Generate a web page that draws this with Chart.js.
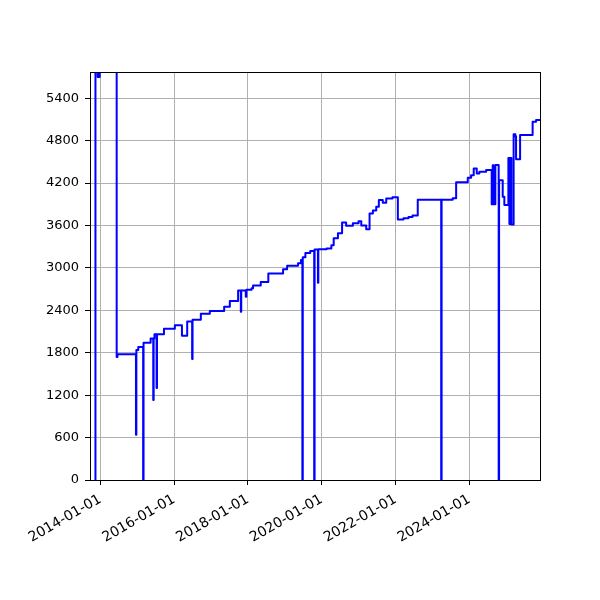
<!DOCTYPE html>
<html>
<head>
<meta charset="utf-8">
<script src="https://cdn.jsdelivr.net/npm/chart.js@4/dist/chart.umd.min.js"></script>
<style>
  html, body { margin: 0; padding: 0; background: #fff; }
  #wrap { width: 600px; height: 600px; }
</style>
</head>
<body>
<div id="wrap"><canvas id="chart" width="600" height="600"></canvas></div>
<script>
// change points of the series (value holds until the next date)
const dates = [
  '2013-11-10', '2013-11-14', '2013-12-06', '2013-12-26', '2014-06-12', '2014-06-20',
  '2014-12-20', '2014-12-24', '2015-01-12', '2015-03-01', '2015-03-05', '2015-05-14',
  '2015-06-09', '2015-06-13', '2015-06-21', '2015-07-12', '2015-07-16', '2015-09-23',
  '2016-01-09', '2016-03-19', '2016-05-10', '2016-06-28', '2016-07-02', '2016-09-22',
  '2016-12-20', '2017-05-11', '2017-07-06', '2017-09-26', '2017-10-23', '2017-10-27',
  '2017-12-11', '2017-12-17', '2018-02-06', '2018-02-21', '2018-05-08', '2018-07-22',
  '2018-12-15', '2019-01-24', '2019-05-12', '2019-06-10', '2019-06-24', '2019-06-28',
  '2019-07-24', '2019-09-10', '2019-10-19', '2019-10-23', '2019-11-25', '2019-11-29',
  '2020-02-19', '2020-04-06', '2020-04-29', '2020-06-10', '2020-07-21', '2020-08-30',
  '2020-11-05', '2020-12-31', '2021-01-27', '2021-03-17', '2021-04-19', '2021-05-22',
  '2021-06-24', '2021-07-20', '2021-08-28', '2021-10-01', '2021-12-02', '2022-01-24',
  '2022-03-21', '2022-05-10', '2022-06-18', '2022-08-09', '2023-03-29', '2023-04-02',
  '2023-07-21', '2023-08-24', '2023-12-17', '2024-01-19', '2024-02-14', '2024-03-15',
  '2024-04-10', '2024-06-16', '2024-08-10', '2024-08-20', '2024-08-28', '2024-09-15',
  '2024-10-18', '2024-10-22', '2024-11-27', '2024-12-13', '2025-01-22', '2025-02-01',
  '2025-02-10', '2025-02-21', '2025-03-15', '2025-04-01', '2025-04-08', '2025-05-18',
  '2025-09-19', '2025-10-23', '2025-12-10'
];
const values = [
  0, 6500, 5700, 6500, 1740, 1780,
  640, 1840, 1880, 0, 1940, 2000,
  1130, 2000, 2060, 1300, 2060, 2140,
  2190, 2040, 2240, 1710, 2265, 2350,
  2390, 2450, 2530, 2680, 2380, 2680,
  2590, 2690, 2710, 2750, 2800, 2920,
  2980, 3030, 3065, 3110, 0, 3150,
  3210, 3240, 0, 3260, 2790, 3265,
  3275, 3320, 3420, 3490, 3640, 3595,
  3630, 3660, 3600, 3545, 3770, 3810,
  3865, 3960, 3920, 3980, 4000, 3685,
  3700, 3720, 3740, 3965, 0, 3965,
  3985, 4210, 4275, 4310, 4405, 4335,
  4360, 4385, 3900, 4450, 3900, 4455,
  0, 4240, 4005, 3890, 4555, 3620,
  4555, 3615, 4890, 4860, 4535, 4880,
  5065, 5090, 5100
];

const xTickDates = ['2014-01-01', '2016-01-01', '2018-01-01', '2020-01-01', '2022-01-01', '2024-01-01'];
const yTicks = [0, 600, 1200, 1800, 2400, 3000, 3600, 4200, 4800, 5400];
const xMin = '2013-09-21';
const xMax = '2025-12-01';
const yMax = 5770;

const points = dates.map((d, i) => ({ x: Date.parse(d), y: values[i] }));

// black frame round the plot area
const framePlugin = {
  id: 'frame',
  afterDraw(chart) {
    const { ctx, chartArea: a } = chart;
    ctx.save();
    ctx.strokeStyle = '#000';
    ctx.lineWidth = 1;
    ctx.strokeRect(a.left + 0.5, a.top + 0.5, a.right - a.left, a.bottom - a.top);
    ctx.restore();
  }
};

new Chart(document.getElementById('chart'), {
  type: 'line',
  data: {
    datasets: [{
      data: points,
      borderColor: '#0000ff',
      borderWidth: 2,
      borderJoinStyle: 'round',
      pointRadius: 0,
      stepped: 'before',
      fill: false
    }]
  },
  options: {
    responsive: false,
    animation: false,
    devicePixelRatio: 1,
    layout: { padding: { left: 0, top: 72, right: 60, bottom: 0 } },
    plugins: { legend: { display: false }, tooltip: { enabled: false } },
    scales: {
      x: {
        type: 'linear',
        min: Date.parse(xMin),
        max: Date.parse(xMax),
        afterBuildTicks: (scale) => { scale.ticks = xTickDates.map(d => ({ value: Date.parse(d) })); },
        afterFit: (scale) => { scale.height = 120; },
        border: { display: false },
        grid: { color: '#b0b0b0', lineWidth: 1, tickLength: 5, tickColor: '#000', tickWidth: 1 },
        ticks: {
          autoSkip: false,
          minRotation: 30,
          maxRotation: 30,
          padding: 6,
          color: '#000',
          font: { family: 'DejaVu Sans', size: 14 },
          callback: (v) => new Date(v).toISOString().slice(0, 10)
        }
      },
      y: {
        min: 0,
        max: yMax,
        afterBuildTicks: (scale) => { scale.ticks = yTicks.map(v => ({ value: v })); },
        afterFit: (scale) => { scale.width = 90; },
        border: { display: false },
        grid: { color: '#b0b0b0', lineWidth: 1, tickLength: 5, tickColor: '#000', tickWidth: 1 },
        ticks: {
          padding: 6,
          color: '#000',
          font: { family: 'DejaVu Sans', size: 13 },
          callback: (v) => String(v)
        }
      }
    }
  },
  plugins: [framePlugin]
});
</script>
</body>
</html>
